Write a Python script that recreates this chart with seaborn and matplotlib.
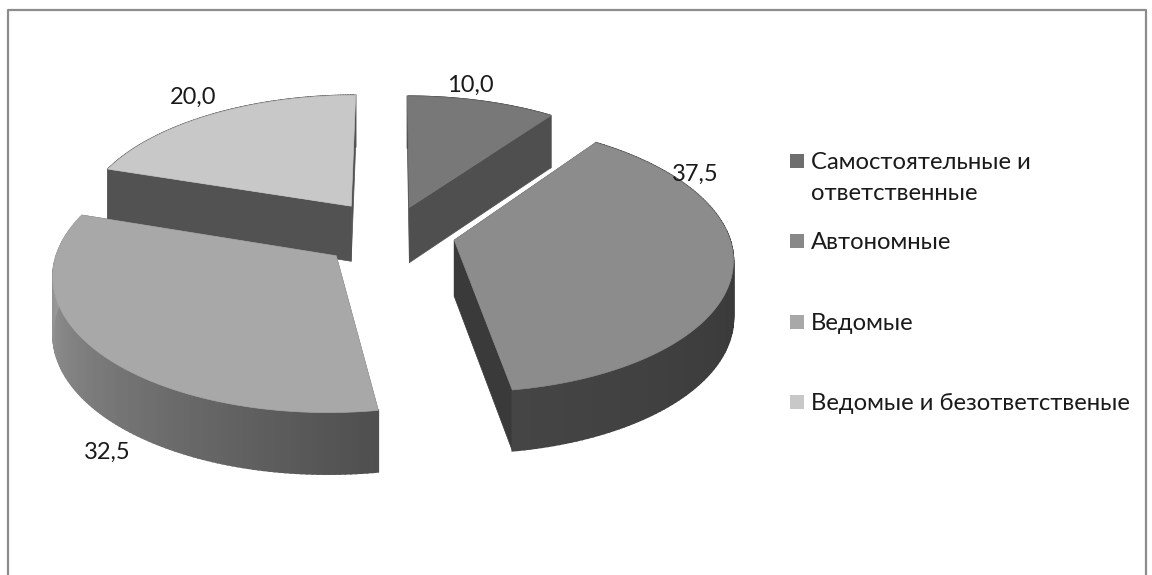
import numpy as np
import matplotlib
matplotlib.use('Agg')
import matplotlib.pyplot as plt
import seaborn as sns

categories = ['Самостоятельные и\nответственные', 'Автономные', 'Ведомые', 'Ведомые и безответственые']
values = [10.0, 37.5, 32.5, 20.0]
value_labels = ['10,0', '37,5', '32,5', '20,0']

top_colors = ['#787878', '#8c8c8c', '#a8a8a8', '#c8c8c8']
legend_colors = ['#6e6e6e', '#888888', '#a8a8a8', '#c8c8c8']
face_colors = ['#4f4f4f', '#3a3a3a', '#555555', '#525252']
# outer wall colours, start and end of the wedge
wall_ramps = [('#4f4f4f', '#4f4f4f'), ('#2f2f2f', '#454545'), ('#4f4f4f', '#a4a4a4'), ('#525252', '#525252')]

sns.set_theme(style='white')
plt.rcParams['font.family'] = ['Lato', 'DejaVu Sans']

# pie projection, in picture pixels
CX, CY = 392, 233
RX, RY = 274, 131
K = 0.125
EXPLODE = [0.21, 0.232, 0.262, 0.26]
DEPTH = 56


def project(u, v):
    w = 1 + K * v
    return CX + RX * u / w, CY - RY * v / w


def wall_depth(v):
    return DEPTH / (1 + K * v) ** 0.6


def blend(c1, c2, t):
    a = np.array(matplotlib.colors.to_rgb(c1))
    b = np.array(matplotlib.colors.to_rgb(c2))
    return a + (b - a) * t


def draw_wedge(ax, start, end, explode, top, face, ramp, zorder):
    mid = np.radians((start + end) / 2)
    ou, ov = explode * np.sin(mid), explode * np.cos(mid)
    ang = np.radians(np.linspace(start, end, 120))
    us = ou + np.sin(ang)
    vs = ov + np.cos(ang)
    xs, ys = project(us, vs)
    ax0, ay0 = project(ou, ov)
    d0 = wall_depth(ov)
    d = wall_depth(vs)

    # radial faces
    for i in (0, -1):
        ax.fill([ax0, xs[i], xs[i], ax0], [ay0, ys[i], ys[i] + d[i], ay0 + d0],
                color=face, lw=0.5, zorder=zorder)
    # outer wall as thin strips so it shades across the wedge
    for i in range(len(xs) - 1):
        c = blend(ramp[0], ramp[1], i / (len(xs) - 2))
        ax.fill([xs[i], xs[i + 1], xs[i + 1], xs[i]],
                [ys[i], ys[i + 1], ys[i + 1] + d[i + 1], ys[i] + d[i]],
                facecolor=c, edgecolor=c, lw=1.2, zorder=zorder)
    # top surface
    ax.fill(np.r_[ax0, xs], np.r_[ay0, ys], color=top, lw=0.5, zorder=zorder + 0.5)


fig = plt.figure(figsize=(11.52, 5.75), dpi=100, facecolor='white')
ax = fig.add_axes([0, 0, 1, 1])
ax.set_xlim(0, 1152)
ax.set_ylim(575, 0)
ax.axis('off')

# chart frame, bottom edge is cut off by the picture
ax.plot([8, 8, 1146, 1146], [575, 10, 10, 575], color='#8c8c8c', lw=1.6)

edges = np.cumsum([0] + values) * 3.6
draw_order = [3, 0, 1, 2]
for z, i in enumerate(draw_order):
    draw_wedge(ax, edges[i], edges[i + 1], EXPLODE[i], top_colors[i], face_colors[i], wall_ramps[i], 2 + z)

label_pos = [(470, 85), (695, 174), (107, 452), (193, 97)]
for (x, y), txt in zip(label_pos, value_labels):
    ax.text(x, y, txt, ha='center', va='center', fontsize=17, color='#1a1a1a', zorder=10)

legend_y = [161, 241, 322, 402]
for y, name, c in zip(legend_y, categories, legend_colors):
    ax.scatter([797], [y], marker='s', s=88, color=c, linewidths=0, zorder=10)
    ax.text(811, y - 9, name, ha='left', va='top', fontsize=17.2, color='#1a1a1a',
            linespacing=1.6, zorder=10)

fig.savefig('out.png', dpi=100)
